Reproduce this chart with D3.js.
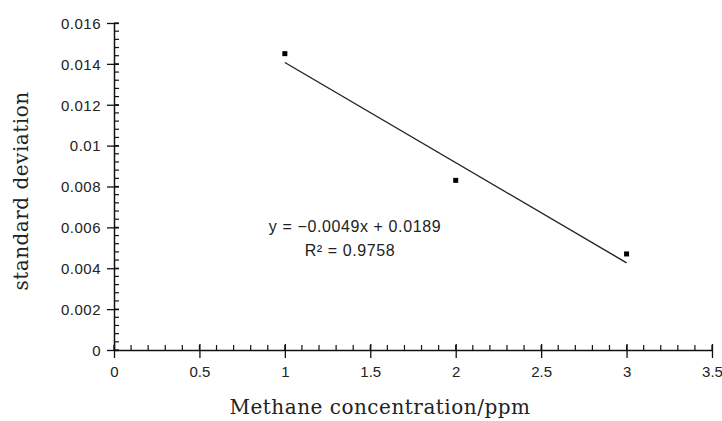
<!DOCTYPE html>
<html>
<head>
<meta charset="utf-8">
<script src="https://cdn.jsdelivr.net/npm/d3@7"></script>
<style>
  body { margin: 0; background: #fff; }
  .tick text { font-family: "Liberation Sans", sans-serif; font-size: 15px; fill: #222; }
  .title { font-family: "DejaVu Serif", serif; font-size: 20px; letter-spacing: 0.5px; fill: #222; }
  .eq { font-family: "Liberation Sans", sans-serif; font-size: 16px; letter-spacing: 0.6px; fill: #222; }
</style>
</head>
<body>
<div class="chart"></div>
<script>
// data
var concentration = [1, 2, 3];
var stdDev = [0.0145, 0.0083, 0.0047];
var xTicks = [0, 0.5, 1, 1.5, 2, 2.5, 3, 3.5];
var yTicks = [0, 0.002, 0.004, 0.006, 0.008, 0.01, 0.012, 0.014, 0.016];

var svgWidth = 722;
var svgHeight = 421;
var margin = {top: 23, right: 10, bottom: 71, left: 114};
var width = 712 - margin.left;
var height = 350 - margin.top;

var svg = d3.select(".chart")
  .append("svg")
  .attr("width", svgWidth)
  .attr("height", svgHeight);
var chart = svg.append("g")
  .attr("transform", "translate(" + margin.left + "," + margin.top + ")");

var x = d3.scaleLinear().domain([0, 3.5]).range([0, width]);
var y = d3.scaleLinear().domain([0, 0.016]).range([height, 0]);

// minor ticks
var xMinor = d3.range(0, 3.5001, 0.1);
var yMinor = d3.range(0, 0.01601, 0.0004);
chart.selectAll(".xminor").data(xMinor).enter().append("line")
  .attr("x1", function(d) { return x(d); })
  .attr("x2", function(d) { return x(d); })
  .attr("y1", height).attr("y2", height - 5)
  .attr("stroke", "#111").attr("stroke-width", 1.2);
chart.selectAll(".yminor").data(yMinor).enter().append("line")
  .attr("y1", function(d) { return y(d); })
  .attr("y2", function(d) { return y(d); })
  .attr("x1", 0).attr("x2", 5)
  .attr("stroke", "#111").attr("stroke-width", 1.2);

// axes
var bottomAxis = d3.axisBottom(x).tickValues(xTicks)
  .tickFormat(function(d) { return d; }).tickSizeInner(8).tickSizeOuter(0).tickPadding(8);
var leftAxis = d3.axisLeft(y).tickValues(yTicks)
  .tickFormat(function(d) { return +d.toFixed(3); }).tickSizeInner(7).tickSizeOuter(0).tickPadding(6);

var gx = chart.append("g")
  .attr("transform", "translate(0," + height + ")")
  .call(bottomAxis);
var gy = chart.append("g").call(leftAxis);

[gx, gy].forEach(function(g) {
  g.select(".domain").attr("stroke", "#111").attr("stroke-width", 1.5);
  g.selectAll(".tick line").attr("stroke", "#111").attr("stroke-width", 1.3);
});
// major ticks cross the axis
gx.selectAll(".tick line").attr("y1", -6);
gy.selectAll(".tick line").attr("x1", 5);
gy.selectAll(".tick text").attr("dy", "0.35em").style("letter-spacing", "0.5px");

// linear trend line (least squares)
var n = concentration.length;
var mx = d3.mean(concentration);
var my = d3.mean(stdDev);
var sxy = 0, sxx = 0;
for (var i = 0; i < n; i++) {
  sxy += (concentration[i] - mx) * (stdDev[i] - my);
  sxx += (concentration[i] - mx) * (concentration[i] - mx);
}
var slope = sxy / sxx;
var intercept = my - slope * mx;
var xr = d3.extent(concentration);

chart.append("line")
  .attr("x1", x(xr[0])).attr("y1", y(slope * xr[0] + intercept))
  .attr("x2", x(xr[1])).attr("y2", y(slope * xr[1] + intercept))
  .attr("stroke", "#222").attr("stroke-width", 1.4);

// points
chart.selectAll(".pt").data(concentration).enter().append("rect")
  .attr("x", function(d) { return x(d) - 2.5; })
  .attr("y", function(d, i) { return y(stdDev[i]) - 2.5; })
  .attr("width", 5).attr("height", 5)
  .attr("fill", "#000");

// equation labels
svg.append("text").attr("class", "eq")
  .attr("x", 355).attr("y", 232)
  .attr("text-anchor", "middle")
  .text("y = \u22120.0049x + 0.0189");
svg.append("text").attr("class", "eq")
  .attr("x", 350).attr("y", 256)
  .attr("text-anchor", "middle")
  .text("R\u00b2 = 0.9758");

// axis titles
svg.append("text").attr("class", "title")
  .attr("x", 380)
  .attr("y", 414)
  .attr("text-anchor", "middle")
  .text("Methane concentration/ppm");
svg.append("text").attr("class", "title")
  .attr("transform", "translate(28,191) rotate(-90)")
  .attr("text-anchor", "middle")
  .text("standard deviation");
</script>
</body>
</html>
